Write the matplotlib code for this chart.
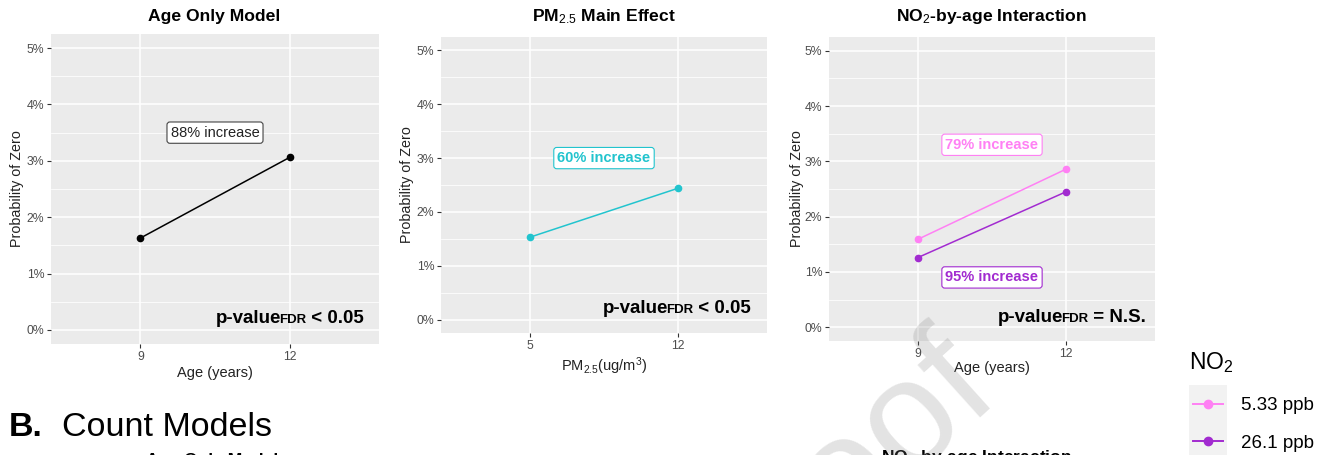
import numpy as np
import matplotlib
matplotlib.use('Agg')
import matplotlib.pyplot as plt
from matplotlib.offsetbox import TextArea, HPacker, AnnotationBbox
from matplotlib.patches import Rectangle
from matplotlib.ticker import MultipleLocator, FixedLocator

plt.rcParams['font.family'] = ['Liberation Sans', 'DejaVu Sans']
plt.rcParams['mathtext.fontset'] = 'custom'
plt.rcParams['mathtext.rm'] = 'Liberation Sans'
plt.rcParams['mathtext.it'] = 'Liberation Sans:italic'
plt.rcParams['mathtext.bf'] = 'Liberation Sans:bold'

# ---- data (probability of zero, %) ----
age = [9, 12]
age_only = [1.63, 3.06]

pm25 = [5, 12]
pm25_prob = [1.53, 2.44]

no2_low = [1.59, 2.86]
no2_high = [1.26, 2.45]
no2_names = ['5.33 ppb', '26.1 ppb']

y_ticks = [0, 1, 2, 3, 4, 5]
y_ticklabels = ['0%', '1%', '2%', '3%', '4%', '5%']

titles = ['Age Only Model', 'PM$_{2.5}$ Main Effect', 'NO$_2$-by-age Interaction']
xlabels = ['Age (years)', 'PM$_{2.5}$(ug/m$^3$)', 'Age (years)']

BLACK = '#000000'
CYAN = '#22C4CE'
PINK = '#FF80F4'
PURPLE = '#A22BD0'

W, H = 1323, 455
fig = plt.figure(figsize=(W / 100, H / 100), dpi=100)


def px(x, y):
    return x / W, 1 - y / H


def box(l, t, r, b):
    return [l / W, 1 - b / H, (r - l) / W, (b - t) / H]


def gg_axes(rect, xlim, xticks):
    ax = fig.add_axes(rect)
    ax.set_facecolor('#EBEBEB')
    for s in ax.spines.values():
        s.set_visible(False)
    ax.set_xlim(*xlim)
    ax.set_ylim(-0.25, 5.25)
    ax.xaxis.set_major_locator(FixedLocator(xticks))
    ax.set_xticklabels([str(t) for t in xticks])
    ax.set_yticks(y_ticks)
    ax.set_yticklabels(y_ticklabels)
    ax.yaxis.set_minor_locator(MultipleLocator(0.5))
    ax.grid(which='major', color='white', lw=1.1)
    ax.grid(which='minor', axis='y', color='white', lw=0.55)
    ax.set_axisbelow(True)
    ax.tick_params(which='major', length=2.8, width=0.8, color='#333333',
                   labelcolor='#4D4D4D', labelsize=8.8, pad=2)
    ax.tick_params(which='minor', length=0)
    return ax


def pvalue(ax, x, y, tail):
    head = HPacker(children=[TextArea('p-value', textprops=dict(fontsize=13.5, fontweight='bold')),
                             TextArea('FDR', textprops=dict(fontsize=9.5, fontweight='bold'))],
                   align='baseline', pad=0, sep=-1.5)
    pack = HPacker(children=[head, TextArea(tail, textprops=dict(fontsize=13.5, fontweight='bold'))],
                   align='baseline', pad=0, sep=0)
    ab = AnnotationBbox(pack, (x, y), xycoords='data', box_alignment=(1, 0.5),
                        frameon=False, pad=0)
    ax.add_artist(ab)


def label(ax, x, y, s, color, edge, weight):
    ax.text(x, y, s, color=color, fontsize=10.5, fontweight=weight, ha='center', va='center',
            bbox=dict(boxstyle='round,pad=0.25,rounding_size=0.2', fc='white', ec=edge, lw=0.8))


# ---- panel 1 ----
ax1 = gg_axes(box(51, 34, 379, 344), (7.2, 13.8), age)
ax1.plot(age, age_only, color=BLACK, lw=1.1, marker='o', ms=4.5)
label(ax1, 10.5, 3.5, '88% increase', '#222222', '#444444', 'normal')
pvalue(ax1, 13.49, 0.21, ' < 0.05')

# ---- panel 2 ----
ax2 = gg_axes(box(441, 37, 767, 333), (0.8, 16.2), pm25)
ax2.plot(pm25, pm25_prob, color=CYAN, lw=1.1, marker='o', ms=4.5)
label(ax2, 8.5, 3.0, '60% increase', CYAN, CYAN, 'bold')
pvalue(ax2, 15.45, 0.2, ' < 0.05')

# ---- panel 3 ----
ax3 = gg_axes(box(829, 37, 1155, 341), (7.2, 13.8), age)
l_low, = ax3.plot(age, no2_low, color=PINK, lw=1.1, marker='o', ms=4.5)
l_high, = ax3.plot(age, no2_high, color=PURPLE, lw=1.1, marker='o', ms=4.5)
label(ax3, 10.5, 3.3, '79% increase', PINK, PINK, 'bold')
label(ax3, 10.5, 0.9, '95% increase', PURPLE, PURPLE, 'bold')
pvalue(ax3, 13.62, 0.18, ' = N.S.')

axes = [ax1, ax2, ax3]
title_pos = [(214, 17), (604, 17), (992, 17)]
ylab_x = [-0.082, -0.083, -0.078]
xlab_y = [-0.072, -0.074, -0.065]
for ax, t, tp, yx, xy, xl in zip(axes, titles, title_pos, ylab_x, xlab_y, xlabels):
    fig.text(*px(*tp), t, fontsize=12.6, fontweight='bold', ha='center', va='center')
    ax.set_ylabel('Probability of Zero', fontsize=10.3, color='#222222')
    ax.yaxis.set_label_coords(yx, 0.5)
    ax.set_xlabel(xl, fontsize=10.5, color='#222222', va='top')
    ax.xaxis.set_label_coords(0.5, xy)

# ---- legend ----
fig.text(*px(1189, 363), 'NO$_2$', fontsize=16.5, ha='left', va='center')
fig.patches.append(Rectangle(px(1189, 470), (1227 - 1189) / W, (470 - 385) / H,
                             transform=fig.transFigure, fc='#F2F2F2', ec='none', zorder=0))
leg = fig.legend(handles=[l_low, l_high], labels=no2_names,
                 loc='upper left', bbox_to_anchor=px(1193, 397), frameon=False,
                 fontsize=13.5, handlelength=1.6, handletextpad=0.95,
                 labelspacing=1.1, borderpad=0, borderaxespad=0)
for h in leg.legend_handles:
    h.set_linewidth(1.4)
    h.set_markersize(6)

# ---- section heading and next-row titles (cut off) ----
fig.text(*px(9, 436), 'B.', fontsize=24.5, fontweight='bold', ha='left', va='baseline')
fig.text(*px(62, 436), 'Count Models', fontsize=24.5, ha='left', va='baseline')
fig.text(*px(212, 452.5), 'Age Only Model', fontsize=12.6, fontweight='bold', ha='center', va='top')
fig.text(*px(977, 448), 'NO$_2$-by-age Interaction', fontsize=12.6, fontweight='bold',
         ha='center', va='top')

# watermark
fig.text(*px(1002, 398), 'Journal Pre-proof', fontsize=110, color='#808080', alpha=0.22,
         rotation=42, rotation_mode='anchor', ha='right', va='baseline', zorder=10)

fig.savefig('out.png', dpi=100)
